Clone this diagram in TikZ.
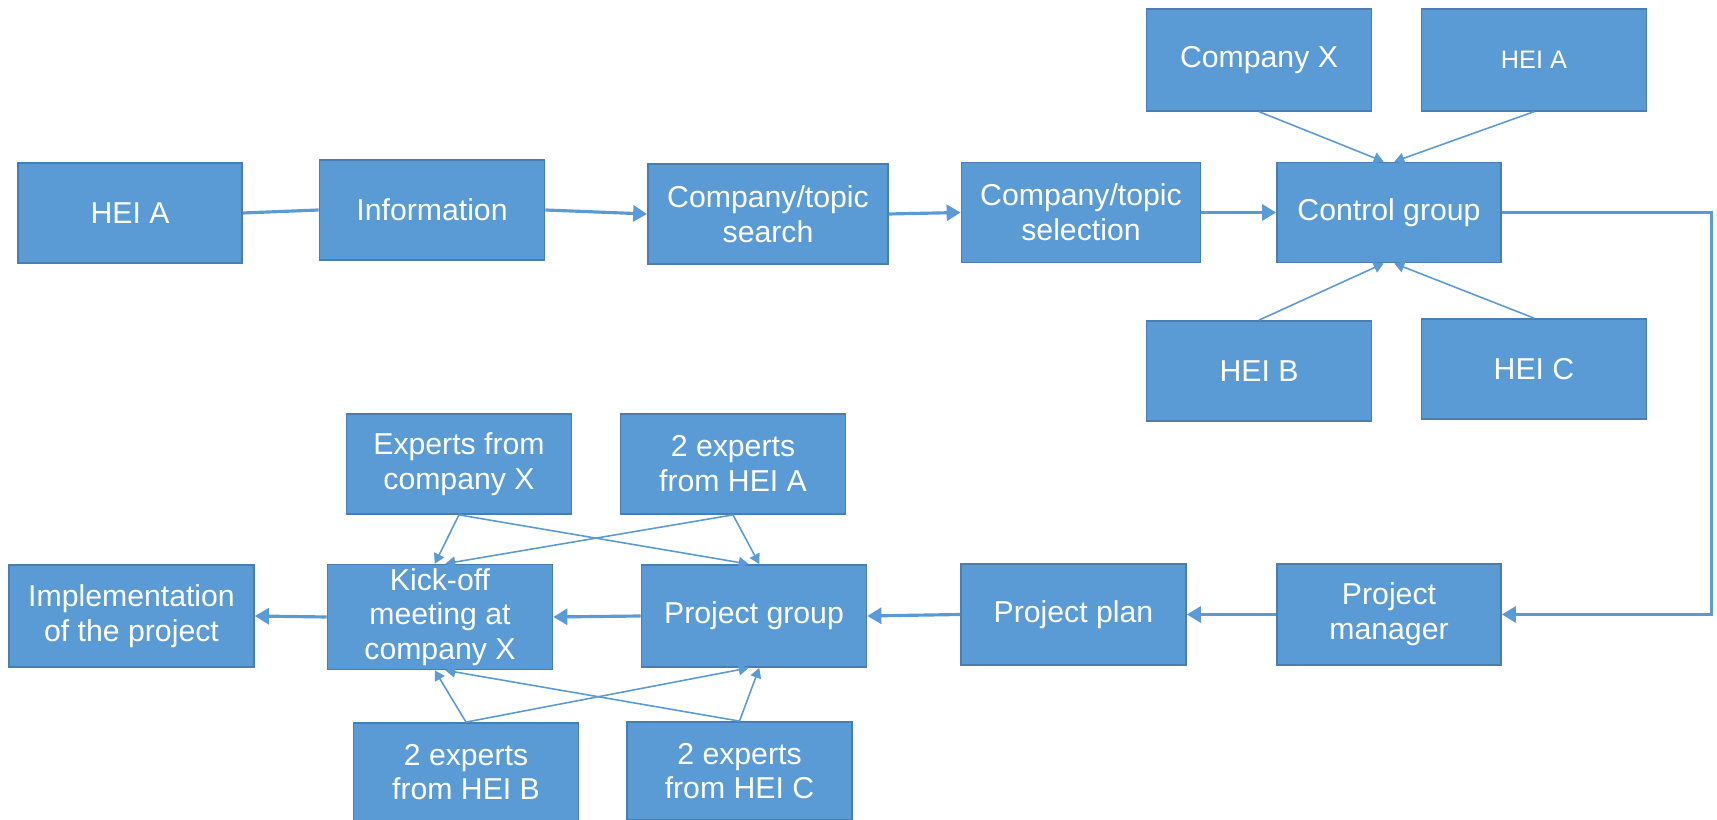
\documentclass[tikz,border=0pt]{standalone}
\usepackage{fontspec}
\setmainfont{Liberation Sans}
\usetikzlibrary{arrows.meta}
\definecolor{boxblue}{HTML}{5B9BD5}
\definecolor{edgeblue}{HTML}{4A7EB0}

\begin{document}
\begin{tikzpicture}[
    box/.style={rectangle,draw=edgeblue,line width=0.5pt,fill=boxblue,text=white,
      minimum width=2.25cm,minimum height=1cm,inner sep=1pt,align=center,
      font=\fontsize{8.6}{9.9}\selectfont},
    flow/.style={draw=boxblue,line width=0.9pt,-{Triangle[length=0.14cm,width=0.16cm]}},
    feed/.style={draw=boxblue,line width=0.45pt,-{Triangle[length=0.1cm,width=0.11cm]}}]
  \useasboundingbox (0,0) rectangle (17.17,8.2);
  % upper row
  \node[box,minimum width=2.245cm] (heia) at (1.30,6.07) {HEI A};
  \node[box] (info) at (4.32,6.10) {Information};
  \node[box,minimum width=2.40cm] (search) at (7.68,6.06) {Company/topic\\search};
  \node[box,minimum width=2.39cm] (select) at (10.81,6.075) {Company/topic\\selection};
  \node[box,minimum width=2.24cm] (ctrl) at (13.89,6.075) {Control group};
  \node[box,minimum height=1.016cm] (compx) at (12.59,7.60) {Company X};
  \node[box,minimum height=1.016cm,font=\fontsize{7.2}{8.6}\selectfont] (heiatop) at (15.34,7.60) {HEI A};
  \node[box] (heib) at (12.59,4.49) {HEI B};
  \node[box] (heic) at (15.34,4.51) {HEI C};
  % lower row
  \node[box,minimum width=2.24cm,minimum height=1.01cm] (pm) at (13.89,2.055) {Project\\manager};
  \node[box,minimum height=1.01cm] (plan) at (10.735,2.055) {Project plan};
  \node[box,minimum height=1.02cm] (group) at (7.54,2.04) {Project group};
  \node[box,minimum height=1.02cm] (kick) at (4.40,2.03) {Kick-off\\meeting at\\company X};
  \node[box,minimum width=2.45cm,minimum height=1.02cm] (impl) at (1.315,2.04) {Implementation\\of the project};
  \node[box] (expx) at (4.59,3.56) {Experts from\\company X};
  \node[box] (expa) at (7.33,3.56) {2 experts\\from HEI A};
  \node[box,minimum height=0.98cm] (expb) at (4.66,0.48) {2 experts\\from HEI B};
  \node[box,minimum height=0.98cm] (expc) at (7.395,0.49) {2 experts\\from HEI C};
  \coordinate (corner) at (17.115,0);

  % main flow
  \draw[draw=boxblue,line width=0.9pt] (heia.east) -- (info.west);
  \draw[flow] (info.east) -- (search.west);
  \draw[flow] (search.east) -- (select.west);
  \draw[flow] (select.east) -- (ctrl.west);
  \draw[flow] (ctrl.east) -- (ctrl.east -| corner) -- (pm.east -| corner) -- (pm.east);
  \draw[flow] (pm.west) -- (plan.east);
  \draw[flow] (plan.west) -- (group.east);
  \draw[flow] (group.west) -- (kick.east);
  \draw[flow] (kick.west) -- (impl.east);

  % control group members
  \draw[feed] (compx.south) -- ([xshift=-1.5pt]ctrl.north);
  \draw[feed] (heiatop.south) -- ([xshift=1.5pt]ctrl.north);
  \draw[feed] (heib.north) -- ([xshift=-1.5pt]ctrl.south);
  \draw[feed] (heic.north) -- ([xshift=1.5pt]ctrl.south);

  % experts
  \draw[feed] (expx.south) -- ([xshift=-1.5pt]kick.north);
  \draw[feed] (expx.south) -- ([xshift=-1.5pt]group.north);
  \draw[feed] (expa.south) -- ([xshift=1.5pt]kick.north);
  \draw[feed] (expa.south) -- ([xshift=1.5pt]group.north);
  \draw[feed] (expb.north) -- ([xshift=-1.5pt]kick.south);
  \draw[feed] (expb.north) -- ([xshift=-1.5pt]group.south);
  \draw[feed] (expc.north) -- ([xshift=1.5pt]kick.south);
  \draw[feed] (expc.north) -- ([xshift=1.5pt]group.south);
\end{tikzpicture}
\end{document}
